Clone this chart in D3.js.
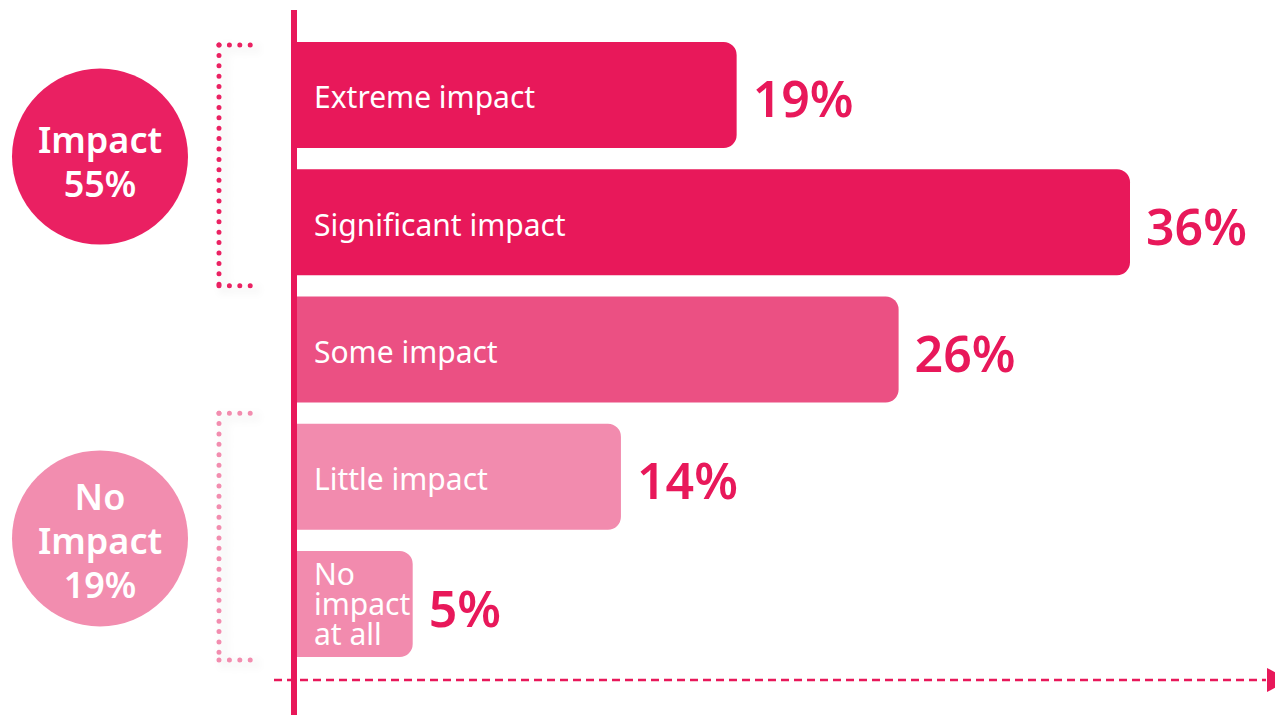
<!DOCTYPE html>
<html>
<head>
<meta charset="utf-8">
<script src="https://cdn.jsdelivr.net/npm/d3@7"></script>
<style>
  html, body { margin: 0; padding: 0; background: #ffffff; }
  svg { display: block; font-family: "Noto Sans", "Open Sans", sans-serif; }
</style>
</head>
<body>
<svg id="chart" width="1275" height="715"></svg>
<script>
// Survey responses: how strongly respondents were impacted
const categories = ["Extreme impact", "Significant impact", "Some impact", "Little impact", "No impact at all"];
const values = [19, 36, 26, 14, 5];
const groups = ["impact", "impact", "some", "none", "none"];

// Summary bubbles for the two grouped answers
const summaryLabels = [["Impact", "55%"], ["No", "Impact", "19%"]];
const summaryGroups = ["impact", "none"];
const summaryMembers = [["Extreme impact", "Significant impact"], ["Little impact", "No impact at all"]];

const W = 1275, H = 715;
const svg = d3.select("#chart");

const barColor = d3.scaleOrdinal()
  .domain(["impact", "some", "none"])
  .range(["#e8185a", "#eb5083", "#f28bae"]);
const bubbleColor = d3.scaleOrdinal()
  .domain(["impact", "none"])
  .range(["#ea2062", "#f28daf"]);
const accent = "#e8185a";

const axisX = 297;
const x = d3.scaleLinear().domain([0, 36]).range([axisX, 1130]);
const y = d3.scaleBand().domain(categories).range([42, 657]).paddingInner(0.167);
const gap = y.step() - y.bandwidth();

// soft shadow used behind the bracket markers
const defs = svg.append("defs");
const shadow = defs.append("filter").attr("id", "soft").attr("x", "-50%").attr("y", "-20%")
  .attr("width", "200%").attr("height", "140%");
shadow.append("feDropShadow").attr("dx", 5).attr("dy", 4).attr("stdDeviation", 4)
  .attr("flood-color", "#000").attr("flood-opacity", 0.12);

// bars with rounded right end
const r = 13;
function barPath(x0, x1, y0, h) {
  const rr = Math.min(r, (x1 - x0) / 2);
  return `M${x0},${y0}H${x1 - rr}A${rr},${rr} 0 0 1 ${x1},${y0 + rr}` +
         `V${y0 + h - rr}A${rr},${rr} 0 0 1 ${x1 - rr},${y0 + h}H${x0}Z`;
}

const rows = categories.map((c, i) => ({ c, v: values[i], g: groups[i] }));

const bar = svg.append("g").selectAll("g").data(rows).join("g");
bar.append("path")
  .attr("d", d => barPath(x(0), x(d.v), y(d.c), y.bandwidth()))
  .attr("fill", d => barColor(d.g));

// category names inside the bars (wrap when the bar is short)
bar.each(function(d) {
  const g = d3.select(this);
  const fs = 30;
  const cy = y(d.c) + y.bandwidth() / 2;
  const t = g.append("text")
    .attr("x", x(0) + 17)
    .attr("fill", "#fff")
    .attr("font-size", fs);
  const full = d.c;
  const approxW = full.length * fs * 0.5;
  if (approxW + 30 > x(d.v) - x(0)) {
    const words = full.split(" ");
    const lines = [words[0], words[1], words.slice(2).join(" ")];
    const lh = 30;
    lines.forEach((ln, k) => {
      t.append("tspan").attr("x", x(0) + 17)
        .attr("y", cy + fs * 0.36 + (k - 1) * lh)
        .text(ln);
    });
  } else {
    t.attr("y", cy + fs * 0.45).text(full);
  }
});

// value labels after each bar
bar.append("text")
  .attr("x", d => x(d.v) + 16)
  .attr("y", d => y(d.c) + y.bandwidth() / 2 + 50 * 0.45)
  .attr("fill", accent)
  .attr("font-size", 50)
  .attr("font-weight", 600)
  .text(d => d.v + "%");

// vertical baseline
svg.append("line")
  .attr("x1", axisX - 3).attr("x2", axisX - 3)
  .attr("y1", 10).attr("y2", H)
  .attr("stroke", accent).attr("stroke-width", 6);

// dashed horizontal axis with arrow head
svg.append("line")
  .attr("x1", 274).attr("x2", 1266)
  .attr("y1", 680).attr("y2", 680)
  .attr("stroke", accent).attr("stroke-width", 2.5)
  .attr("stroke-dasharray", "8 5");
svg.append("path")
  .attr("d", "M1267,668L1267,692L1290,680Z")
  .attr("fill", accent);

// dotted brackets + summary bubbles
summaryMembers.forEach((members, i) => {
  const first = y(members[0]);
  const last = y(members[members.length - 1]) + y.bandwidth();
  const top = i === 0 ? first + 3 : first - gap / 2;
  const bottom = i === 0 ? last + gap / 2 : last + 3;
  const col = bubbleColor(summaryGroups[i]);
  // each stroke starts at a corner so the dots line up there
  const bracket = svg.append("g").attr("filter", "url(#soft)");
  [
    `M219,${top}H252`,
    `M219,${top}V${bottom}`,
    `M219,${bottom}H252`
  ].forEach(d => {
    bracket.append("path")
      .attr("d", d)
      .attr("fill", "none")
      .attr("stroke", col)
      .attr("stroke-width", 5)
      .attr("stroke-linecap", "round")
      .attr("stroke-dasharray", "0 10.4");
  });

  const cy = (first + last) / 2 - 2;
  svg.append("circle")
    .attr("cx", 100).attr("cy", cy).attr("r", 88)
    .attr("fill", col);
  const lines = summaryLabels[i];
  const lh = 44;
  const t = svg.append("text")
    .attr("text-anchor", "middle")
    .attr("fill", "#fff")
    .attr("font-size", 36)
    .attr("font-weight", 600);
  lines.forEach((ln, k) => {
    t.append("tspan").attr("x", 100)
      .attr("y", cy + 36 * 0.36 + (k - (lines.length - 1) / 2) * lh + (i === 0 ? 5 : 3))
      .text(ln);
  });
});
</script>
</body>
</html>
